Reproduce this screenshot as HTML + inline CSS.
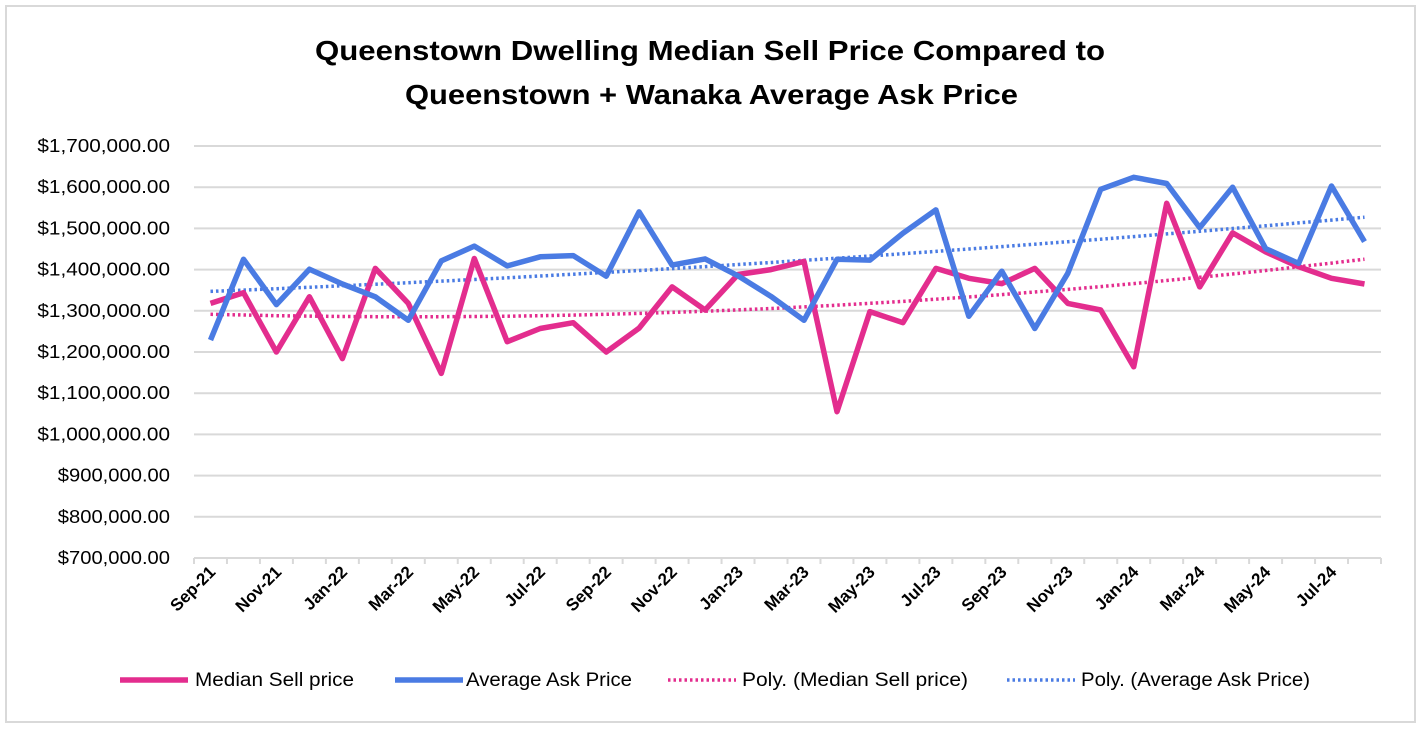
<!DOCTYPE html>
<html><head><meta charset="utf-8"><style>
body{margin:0;background:#fff;}
svg{display:block;font-family:"Liberation Sans",Arial,sans-serif;}
</style></head><body>
<svg id="chart" width="1421" height="729">
<rect x="6" y="6" width="1409" height="716" fill="#fff" stroke="#d9d9d9" stroke-width="2"/>
<text x="315" y="60" textLength="790" lengthAdjust="spacingAndGlyphs" font-size="28" font-weight="bold">Queenstown Dwelling Median Sell Price Compared to</text>
<text x="405" y="104" textLength="613" lengthAdjust="spacingAndGlyphs" font-size="28" font-weight="bold">Queenstown + Wanaka Average Ask Price</text>
<g id="grid"></g><g id="ylab"></g><g id="xlab"></g><g id="series"></g>
<g>
<line x1="120" y1="680" x2="188" y2="680" stroke="#e32d8e" stroke-width="5.5"/>
<text x="195" y="686" font-size="19" textLength="159" lengthAdjust="spacingAndGlyphs">Median Sell price</text>
<line x1="395" y1="680" x2="463" y2="680" stroke="#4a7be3" stroke-width="5.5"/>
<text x="466" y="686" font-size="19" textLength="166" lengthAdjust="spacingAndGlyphs">Average Ask Price</text>
<line x1="668" y1="680" x2="736" y2="680" stroke="#e32d8e" stroke-width="3.5" stroke-dasharray="2.5 3"/>
<text x="742" y="686" font-size="19" textLength="226" lengthAdjust="spacingAndGlyphs">Poly. (Median Sell price)</text>
<line x1="1007" y1="680" x2="1075" y2="680" stroke="#4a7be3" stroke-width="3.5" stroke-dasharray="2.5 3"/>
<text x="1081" y="686" font-size="19" textLength="229" lengthAdjust="spacingAndGlyphs">Poly. (Average Ask Price)</text>
</g>
</svg>
<script>
const months = ["Sep-21","Oct-21","Nov-21","Dec-21","Jan-22","Feb-22","Mar-22","Apr-22","May-22","Jun-22","Jul-22","Aug-22","Sep-22","Oct-22","Nov-22","Dec-22","Jan-23","Feb-23","Mar-23","Apr-23","May-23","Jun-23","Jul-23","Aug-23","Sep-23","Oct-23","Nov-23","Dec-23","Jan-24","Feb-24","Mar-24","Apr-24","May-24","Jun-24","Jul-24","Aug-24"];
const medianSell = [1318000,1344000,1200000,1334000,1184000,1403000,1318000,1148000,1427000,1225000,1257000,1271000,1200000,1258000,1358000,1302000,1388000,1400000,1420000,1055000,1298000,1271000,1403000,1379000,1366000,1403000,1318000,1302000,1164000,1561000,1358000,1489000,1443000,1407000,1379000,1365000];
const avgAsk = [1229000,1425000,1315000,1401000,1365000,1334000,1277000,1421000,1457000,1409000,1431000,1434000,1384000,1540000,1411000,1426000,1385000,1335000,1277000,1425000,1423000,1488000,1545000,1287000,1396000,1257000,1391000,1595000,1624000,1609000,1502000,1600000,1451000,1415000,1603000,1468000];
const yTicks = [700000,800000,900000,1000000,1100000,1200000,1300000,1400000,1500000,1600000,1700000];

const NS="http://www.w3.org/2000/svg";
const X0=194,X1=1381,Y0=558,Y1=146,YMIN=700000,YMAX=1700000;
const cw=(X1-X0)/months.length;
const xPos=i=>X0+cw*(i+0.5);
const yPos=v=>Y0-(v-YMIN)/(YMAX-YMIN)*(Y0-Y1);
function mk(tag,attrs,parent){const e=document.createElementNS(NS,tag);for(const k in attrs)e.setAttribute(k,attrs[k]);parent.appendChild(e);return e;}
const grid=document.getElementById('grid'),ylab=document.getElementById('ylab'),xlab=document.getElementById('xlab'),ser=document.getElementById('series');
yTicks.forEach(v=>{
  const l=mk('line',{x1:X0,x2:X1,y1:yPos(v),y2:yPos(v),stroke:'#d9d9d9','stroke-width':2},grid);
  
  
  const s='$'+v.toLocaleString('en-US')+'.00';
  const t=mk('text',{x:170,y:yPos(v)+6,'text-anchor':'end','font-size':18,fill:'#000',textLength:s.length*10.2,lengthAdjust:'spacingAndGlyphs'},ylab);
  t.textContent=s;
  
  
});
for(let i=0;i<=months.length;i++){
  const tk=mk('line',{x1:X0+cw*i,x2:X0+cw*i,y1:Y0,y2:Y0+6,stroke:'#d9d9d9','stroke-width':2},grid);
  
  
}
months.forEach((m,i)=>{
  if(i%2)return;
  const x=xPos(i)+6,y=573;
  const t=mk('text',{x:x,y:y,'text-anchor':'end','font-size':17,'font-weight':'bold',transform:`rotate(-45 ${x} ${y})`},xlab);
  t.textContent=m;
  
  
});
function polyFit(ys){
  const n=ys.length;let S=[0,0,0,0,0],T=[0,0,0];
  ys.forEach((y,i)=>{const x=i+1;for(let k=0;k<5;k++)S[k]+=Math.pow(x,k);for(let k=0;k<3;k++)T[k]+=y*Math.pow(x,k);});
  const A=[[S[0],S[1],S[2],T[0]],[S[1],S[2],S[3],T[1]],[S[2],S[3],S[4],T[2]]];
  for(let c=0;c<3;c++){for(let r=c+1;r<3;r++){const f=A[r][c]/A[c][c];for(let k=c;k<4;k++)A[r][k]-=f*A[c][k];}}
  const b=[0,0,0];for(let r=2;r>=0;r--){let s=A[r][3];for(let k=r+1;k<3;k++)s-=A[r][k]*b[k];b[r]=s/A[r][r];}
  return ys.map((_,i)=>b[0]+b[1]*(i+1)+b[2]*(i+1)*(i+1));
}
function path(vals){return vals.map((v,i)=>(i?'L':'M')+xPos(i).toFixed(1)+' '+yPos(v).toFixed(1)).join(' ');}
const tp=mk('path',{d:path(polyFit(medianSell)),fill:'none',stroke:'#e32d8e','stroke-width':3.5,'stroke-dasharray':'2.5 3'},ser);


const ta=mk('path',{d:path(polyFit(avgAsk)),fill:'none',stroke:'#4a7be3','stroke-width':3.5,'stroke-dasharray':'2.5 3'},ser);


const pm=mk('path',{d:path(medianSell),fill:'none',stroke:'#e32d8e','stroke-width':5.5,'stroke-linejoin':'round'},ser);


const pa=mk('path',{d:path(avgAsk),fill:'none',stroke:'#4a7be3','stroke-width':5.5,'stroke-linejoin':'round'},ser);


</script>
</body></html>
